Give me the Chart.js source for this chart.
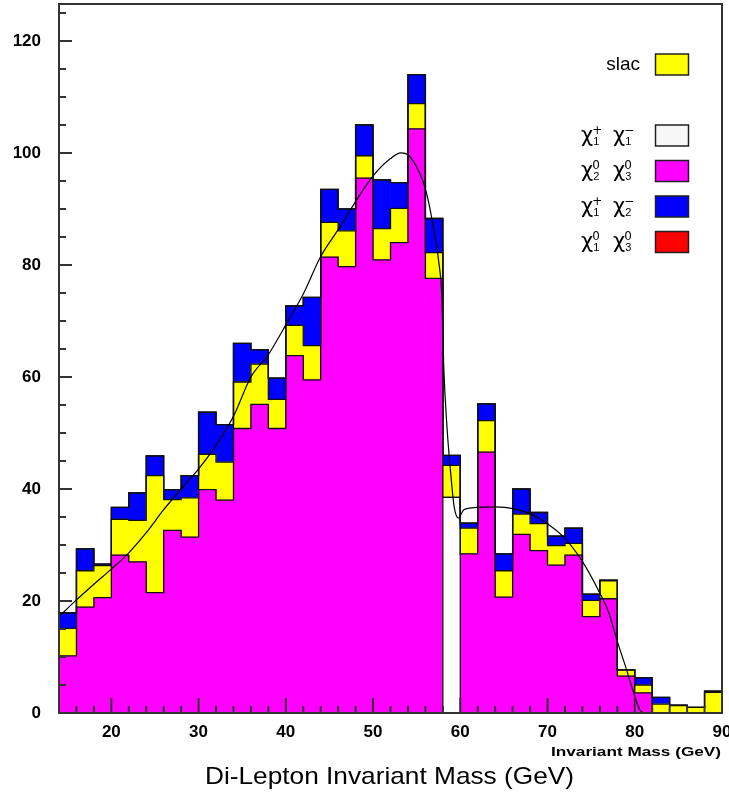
<!DOCTYPE html>
<html>
<head>
<meta charset="utf-8">
<script src="https://cdn.jsdelivr.net/npm/chart.js@4.4.0/dist/chart.umd.min.js"></script>
<style>
  html, body { margin: 0; padding: 0; background: #fff; }
  canvas { display: block; }
</style>
</head>
<body>
<canvas id="massPlot" width="729" height="793"></canvas>
<script>
/* 2 GeV bins, 14 -> 90 GeV */
const binLow = 14;
const binWidth = 2;

// per-bin counts, stacked bottom to top
const chi1pChi1m = [0, 0, 0, 0, 0, 0, 0, 0, 0, 0, 0, 0, 0, 0, 0, 0, 0, 0, 0, 0, 0, 0,
  38.5, 0, 0, 0, 0, 0, 0, 0, 0, 0, 0, 0, 0, 0, 0, 0];
const chi2Chi3 = [10.2, 18.9, 20.6, 28.2, 27.0, 21.5, 32.6, 31.4, 39.9, 38.0, 50.8, 55.1, 50.8,
  63.8, 59.5, 81.4, 79.7, 95.5, 80.9, 84.0, 104.3, 77.6, 0, 28.4, 46.6, 20.7, 31.9, 29.0,
  26.4, 28.2, 17.2, 20.4, 6.6, 3.6, 0, 0, 0, 0];
const slac = [4.9, 6.5, 5.7, 6.4, 7.4, 20.9, 5.5, 7.0, 6.3, 6.8, 8.3, 7.2, 5.2, 5.4, 6.1, 6.2,
  6.4, 4.0, 5.6, 6.1, 4.5, 4.6, 5.7, 4.6, 5.6, 4.7, 3.6, 4.8, 3.5, 2.1, 2.9, 3.2, 1.1, 1.4,
  1.6, 1.3, 1.0, 3.7];
const chi1pChi2m = [2.8, 3.9, 0.3, 2.1, 4.9, 3.5, 1.8, 4.0, 7.5, 6.7, 6.9, 2.6, 3.8, 3.5, 8.6,
  5.9, 3.9, 5.5, 8.7, 4.6, 5.2, 6.1, 1.8, 0.9, 3.0, 3.0, 4.5, 2.0, 1.7, 2.7, 1.1, 0.1, 0,
  1.3, 1.2, 0.1, 0, 0.2];
const chi1Chi3 = [0, 0, 0, 0, 0, 0, 0, 0, 0, 0, 0, 0, 0, 0, 0, 0, 0, 0, 0, 0, 0, 0, 0, 0, 0,
  0, 0, 0, 0, 0, 0, 0, 0, 0, 0, 0, 0, 0];

// fitted curve
const fitMass = [14, 16, 18, 20, 22, 24, 26, 28, 30, 32, 34, 36, 38, 40, 42, 44, 46, 48, 50,
  52, 53.2, 54, 55, 55.8, 56.4, 56.9, 57.5, 57.9, 58.1, 58.5, 58.8, 59.3, 59.8, 60.4, 61.9,
  64, 66.1, 68, 69.9, 71.8, 73.9, 76, 77, 78, 78.9, 79.9, 80.6, 81];
const fitCounts = [17.2, 20.2, 23.0, 25.7, 28.6, 32.2, 36.3, 40.0, 43.6, 47.8, 53.0, 60.0,
  64.0, 69.3, 74.8, 81.5, 86.3, 91.3, 95.9, 99.0, 100.0, 99.7, 97.5, 94.6, 91.0, 86.8, 80.9,
  73.8, 62.0, 50.5, 44.6, 36.8, 34.8, 36.3, 36.7, 36.8, 36.5, 35.6, 33.9, 31.5, 27.3, 21.4,
  18.0, 12.8, 8.5, 3.5, 0.5, 0];

const xTicks = [20, 30, 40, 50, 60, 70, 80, 90];
const yTicks = [0, 20, 40, 60, 80, 100, 120];

const legendNames = ['slac', [['+', '1'], ['\u2212', '1']], [['0', '2'], ['0', '3']],
  [['+', '1'], ['\u2212', '2']], [['0', '1'], ['0', '3']]];

const colWhite = '#f7f7f7', colMagenta = '#ff00ff', colYellow = '#ffff00',
  colBlue = '#0000ff', colRed = '#ff0000';

const centers = chi2Chi3.map((_, i) => binLow + binWidth * (i + 0.5));
const edges = [...chi2Chi3.map((_, i) => binLow + binWidth * i), binLow + binWidth * chi2Chi3.length];

function barSet(label, vals, color) {
  return {
    type: 'bar', label, backgroundColor: color, borderWidth: 0,
    data: vals.map((v, i) => ({ x: centers[i], y: v || null })),
    barPercentage: 1, categoryPercentage: 1, stack: 'hist', order: 2
  };
}

// histogram outline, one per stack level
function edgeSet(vals) {
  return {
    type: 'line', stepped: 'before', stack: 'edge', order: 1,
    data: edges.map((x, i) => ({ x, y: vals[Math.min(i, vals.length - 1)] })),
    borderColor: '#111', borderWidth: 1.3, pointRadius: 0, fill: false
  };
}

const series = [chi1pChi1m, chi2Chi3, slac, chi1pChi2m, chi1Chi3];
const colors = ['#fdfdfd', colMagenta, colYellow, colBlue, colRed];

const datasets = [
  {
    type: 'line', label: 'fit', stack: 'fit', order: 0,
    data: fitMass.map((m, i) => ({ x: m, y: fitCounts[i] })),
    borderColor: '#000', borderWidth: 1.2, pointRadius: 0,
    cubicInterpolationMode: 'monotone', fill: false
  },
  ...series.map(s => edgeSet(s)),
  ...series.map((s, i) => barSet('s' + i, s, colors[i]))
];

function stretchText(ctx, text, x, y, width, align) {
  const w = ctx.measureText(text).width;
  const sx = width / w;
  ctx.save();
  const left = align === 'right' ? x - width : align === 'center' ? x - width / 2 : x;
  ctx.translate(left, y);
  ctx.scale(sx, 1);
  ctx.textAlign = 'left';
  ctx.fillText(text, 0, 0);
  ctx.restore();
}

function drawChi(ctx, left, cy, pairs) {
  let x = left;
  pairs.forEach(([sup, sub]) => {
    ctx.font = '21px "DejaVu Sans"';
    ctx.fillText('χ', x, cy + 6);
    const w = ctx.measureText('χ').width;
    ctx.font = '12px "DejaVu Sans"';
    ctx.fillText(sup, x + w - 1, cy - 2);
    ctx.font = '11px "Liberation Sans"';
    ctx.fillText(sub, x + w, cy + 9);
    x += 32;
  });
}

const rootFrame = {
  id: 'rootFrame',
  afterDatasetsDraw(chart) {
    const { ctx, chartArea: a, scales: { x, y } } = chart;
    ctx.save();
    ctx.strokeStyle = '#333';
    ctx.lineWidth = 2;
    ctx.beginPath();
    for (let v = 0; v <= y.max; v += 5) {
      const py = y.getPixelForValue(v);
      ctx.moveTo(a.left, py);
      ctx.lineTo(a.left + (v % 20 === 0 ? 13 : 7), py);
    }
    for (let v = binLow; v <= x.max; v += binWidth) {
      const px = x.getPixelForValue(v);
      ctx.moveTo(px, a.bottom);
      ctx.lineTo(px, a.bottom - (v % 10 === 0 ? 15 : 7));
    }
    ctx.stroke();
    ctx.strokeRect(a.left, a.top, a.right - a.left, a.bottom - a.top);

    // legend
    ctx.textBaseline = 'alphabetic';
    const rowsY = [64.5, 135.5, 171, 206.5, 242];
    const legendColors = [colYellow, colWhite, colMagenta, colBlue, colRed];
    legendNames.forEach((name, i) => {
      const cy = rowsY[i];
      ctx.fillStyle = legendColors[i];
      ctx.fillRect(655.5, cy - 10.5, 33, 21);
      ctx.strokeStyle = '#222';
      ctx.lineWidth = 1.5;
      ctx.strokeRect(655.5, cy - 10.5, 33, 21);
      ctx.fillStyle = '#000';
      if (typeof name === 'string') {
        ctx.font = '19px "Liberation Sans"';
        ctx.textAlign = 'right';
        ctx.fillText(name, 640, cy + 5);
      } else {
        ctx.textAlign = 'left';
        drawChi(ctx, 581, cy, name);
      }
    });

    // axis titles
    ctx.fillStyle = '#000';
    ctx.textBaseline = 'middle';
    ctx.font = 'bold 13px "Liberation Sans"';
    stretchText(ctx, 'Invariant Mass (GeV)', 721, 752, 170, 'right');
    ctx.font = '24px "Liberation Sans"';
    stretchText(ctx, 'Di-Lepton Invariant Mass (GeV)', 389.5, 777, 369, 'center');
    ctx.restore();
  }
};

const tickFont = { family: 'Liberation Sans', size: 17, weight: 'bold' };

new Chart(document.getElementById('massPlot'), {
  type: 'bar',
  data: { datasets },
  plugins: [rootFrame],
  options: {
    responsive: false,
    animation: false,
    devicePixelRatio: 1,
    layout: { padding: { left: 0, right: 7, top: 4, bottom: 0 } },
    plugins: { legend: { display: false }, tooltip: { enabled: false }, title: { display: false } },
    scales: {
      x: {
        type: 'linear', min: binLow, max: 90, stacked: true, offset: false,
        grid: { display: false, drawTicks: false }, border: { display: false },
        afterBuildTicks: s => { s.ticks = xTicks.map(v => ({ value: v })); },
        ticks: { font: tickFont, color: '#000', padding: 9, maxRotation: 0, autoSkip: false },
        afterFit: s => { s.height = 80; s.paddingLeft = 0; s.paddingRight = 0; }
      },
      y: {
        type: 'linear', min: 0, max: 126.6, stacked: true,
        grid: { display: false, drawTicks: false }, border: { display: false },
        afterBuildTicks: s => { s.ticks = yTicks.map(v => ({ value: v })); },
        ticks: { font: tickFont, color: '#000', padding: 18, autoSkip: false },
        afterFit: s => { s.width = 59; s.paddingTop = 0; s.paddingBottom = 0; }
      }
    }
  }
});
</script>
</body>
</html>
